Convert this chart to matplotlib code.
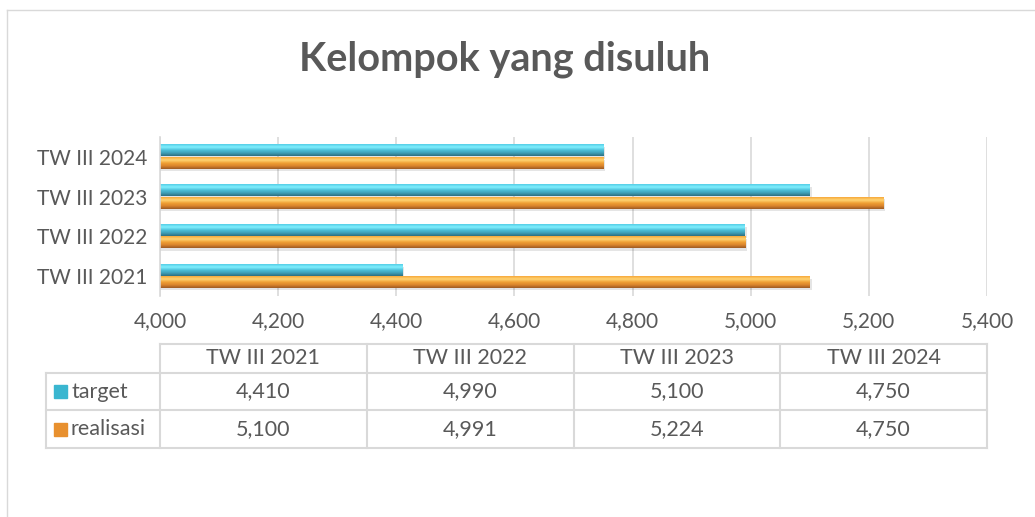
import matplotlib
matplotlib.use("Agg")
import matplotlib.pyplot as plt
import numpy as np
from matplotlib.colors import LinearSegmentedColormap

plt.rcParams['font.family'] = ['Lato', 'DejaVu Sans']

categories = ['TW III 2021', 'TW III 2022', 'TW III 2023', 'TW III 2024']
target = [4410, 4990, 5100, 4750]
realisasi = [5100, 4991, 5224, 4750]
series_names = ['target', 'realisasi']
xticks = [4000, 4200, 4400, 4600, 4800, 5000, 5200, 5400]

W, H = 1035, 517
fig = plt.figure(figsize=(W / 100, H / 100), dpi=100)
txt = '#595959'
grid_c = '#d9d9d9'
fs = 15

# chart border (cropped on right/bottom)
fig.add_artist(plt.Line2D([7 / W, 7 / W], [0, 1 - 10 / H], color=grid_c, lw=1))
fig.add_artist(plt.Line2D([7 / W, 1], [1 - 10 / H, 1 - 10 / H], color=grid_c, lw=1))

fig.text(505 / W, 1 - 59 / H, 'Kelompok yang disuluh', ha='center', va='center',
         fontsize=28.5, fontweight='bold', color=txt)

ax = fig.add_axes([160 / W, 1 - 296 / H, (987 - 160) / W, (296 - 137) / H])

# bevel-ish gradients (top -> bottom)
cyan = LinearSegmentedColormap.from_list('c', ['#2d6f80', '#3f9fb6', '#4cc0da', '#80f0ff', '#55cde6'])
orng = LinearSegmentedColormap.from_list('o', ['#9c5a24', '#d9842c', '#f0a035', '#ffd574', '#f7a83a'])

y = np.arange(len(categories))
h = 0.29
bars_t = ax.barh(y + 0.155, target, height=h, left=0, color='#3ab6d0')
bars_r = ax.barh(y - 0.155, realisasi, height=h, left=0, color='#f5a030')

xmin, xmax = xticks[0], xticks[-1]
grad = np.linspace(0, 1, 64).reshape(-1, 1)
for bars, cm in [(bars_t, cyan), (bars_r, orng)]:
    for b in bars:
        x0 = xmin
        x1 = b.get_width()
        y0 = b.get_y()
        y1 = y0 + b.get_height()
        # soft shadow
        ax.fill_between([x0, x1 + 3], y0 - 0.06, y1 - 0.06, color='#000000', alpha=0.10,
                        lw=0, zorder=1.5)
        ax.imshow(grad, extent=[x0, x1, y0, y1], origin='lower', cmap=cm,
                  aspect='auto', zorder=2, interpolation='bilinear')
        b.set_visible(False)

ax.set_xlim(xmin, xmax)
ax.set_ylim(-0.5, len(categories) - 0.5)
ax.set_xticks(xticks)
ax.set_xticklabels([f'{v:,}' for v in xticks])
ax.set_yticks(y)
ax.set_yticklabels(categories)
ax.tick_params(length=0, colors=txt, labelsize=fs)
ax.tick_params(axis='x', pad=11)
ax.tick_params(axis='y', pad=9)
ax.grid(axis='x', color=grid_c, lw=1.2, zorder=0)
ax.set_axisbelow(True)
for s in ['top', 'right', 'bottom']:
    ax.spines[s].set_visible(False)
ax.spines['left'].set_color(grid_c)
ax.spines['left'].set_linewidth(1.2)

# data table
tx0, tx1 = 46 / W, 987 / W
col0 = 160 / W
rows = [1 - 344 / H, 1 - 373 / H, 1 - 410 / H, 1 - 448 / H]
ncol = len(categories)
cw = (tx1 - col0) / ncol
lc = '#d9d9d9'
fig.add_artist(plt.Line2D([col0, tx1], [rows[0]] * 2, color=lc, lw=1.5))
for r in rows[1:]:
    fig.add_artist(plt.Line2D([tx0, tx1], [r] * 2, color=lc, lw=1.5))
fig.add_artist(plt.Line2D([tx0, tx0], [rows[1], rows[3]], color=lc, lw=1.5))
for i in range(ncol + 1):
    xx = col0 + i * cw
    fig.add_artist(plt.Line2D([xx, xx], [rows[0], rows[3]], color=lc, lw=1.5))

for i, c in enumerate(categories):
    fig.text(col0 + (i + 0.5) * cw, (rows[0] + rows[1]) / 2, c, ha='center', va='center',
             fontsize=fs + 0.5, color=txt)
for j, (name, vals, col) in enumerate([('target', target, '#3ab6d0'),
                                        ('realisasi', realisasi, '#e8902e')]):
    yc = (rows[j + 1] + rows[j + 2]) / 2
    fig.add_artist(plt.Rectangle((54 / W, yc - 6.5 / H), 13 / W, 13 / H, color=col))
    fig.text(71 / W, yc, name, ha='left', va='center', fontsize=fs + 0.5, color=txt)
    for i, v in enumerate(vals):
        fig.text(col0 + (i + 0.5) * cw, yc, f'{v:,}', ha='center', va='center',
                 fontsize=fs + 0.5, color=txt)

fig.savefig('out.png', dpi=100)
